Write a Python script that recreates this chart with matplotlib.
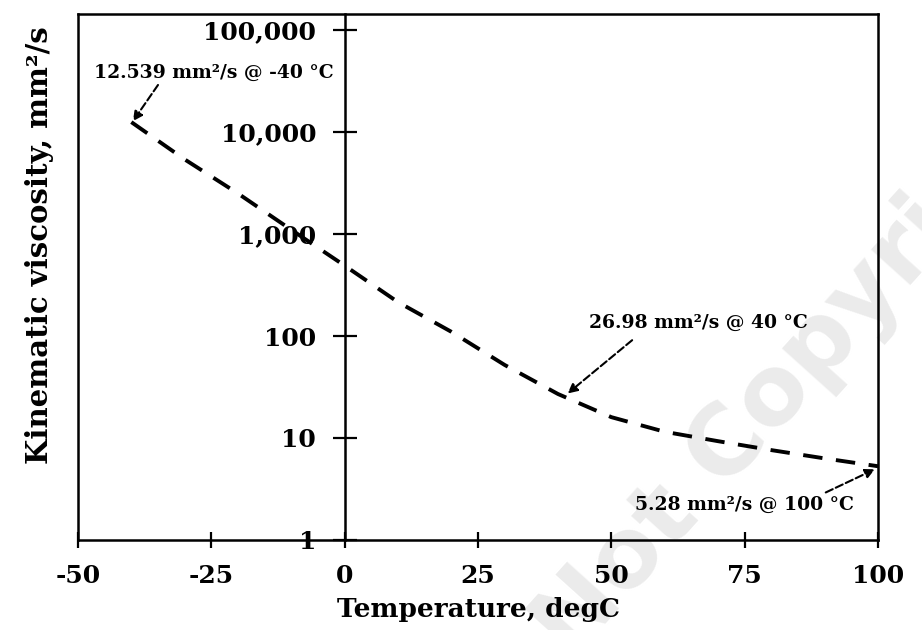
import matplotlib.pyplot as plt
from matplotlib.ticker import FixedLocator, FixedFormatter, NullLocator

plt.rcParams['font.family'] = ['DejaVu Serif']
plt.rcParams['font.weight'] = 'bold'

# viscosity curve
temps = [-40, -30, -20, -10, 0, 10, 20, 30, 40, 50, 60, 70, 80, 90, 100]
visc = [12539, 5400, 2500, 1100, 490, 215, 110, 52, 26.98, 16, 11.5, 9.3, 7.6, 6.3, 5.28]

yticks = [1, 10, 100, 1000, 10000, 100000]
ytick_labels = ['1', '10', '100', '1,000', '10,000', '100,000']
xticks = [-50, -25, 0, 25, 50, 75, 100]

notes = ['12.539 mm²/s @ -40 °C', '26.98 mm²/s @ 40 °C', '5.28 mm²/s @ 100 °C']
note_pos = [(-24.5, 38000), (66.4, 134), (75.0, 2.22)]
arrow_tail = [(-35, 29000), (53.9, 91), (90.2, 2.92)]
arrow_head = [(-39.7, 12800), (41.8, 27.3), (99.4, 4.93)]

fig = plt.figure(figsize=(9.22, 6.30), dpi=100)
ax = fig.add_axes([0.0846, 0.143, 0.8677, 0.835])

ax.plot(temps, visc, color='black', lw=2.8, linestyle=(0, (5, 3.5)), zorder=3)
ax.set_yscale('log')
ax.set_xlim(-50, 100)
ax.set_ylim(1, 10 ** 5.16)

ax.yaxis.set_major_locator(FixedLocator(yticks))
ax.yaxis.set_major_formatter(FixedFormatter(ytick_labels))
ax.yaxis.set_minor_locator(NullLocator())
ax.set_xticks(xticks)
ax.set_xticklabels([str(t) for t in xticks])

# y axis drawn through x = 0, frame kept round the plot
ax.spines['left'].set_position(('data', 0))
for s in ax.spines.values():
    s.set_linewidth(1.8)
ax.plot([0, 0], [0, 1], transform=ax.transAxes, color='black', lw=1.8, clip_on=False)

ax.tick_params(axis='y', direction='inout', length=17, width=1.6, labelsize=18, pad=12)
ax.tick_params(axis='x', direction='inout', length=12, width=1.6, labelsize=18, pad=11)

ax.set_xlabel('Temperature, degC', fontsize=19, fontweight='bold', labelpad=7)
ax.set_ylabel('Kinematic viscosity, mm²/s', fontsize=21, fontweight='bold')
ax.yaxis.set_label_coords(-0.03, 0.56, transform=ax.transAxes)

for txt, pos, tail, head in zip(notes, note_pos, arrow_tail, arrow_head):
    ax.text(pos[0], pos[1], txt, fontsize=13.5, fontweight='bold', ha='center', va='center')
    ax.annotate('', xy=head, xytext=tail,
                arrowprops=dict(arrowstyle='-|>', color='black', lw=1.5,
                                linestyle='--', mutation_scale=14,
                                shrinkA=0, shrinkB=0))

# faint watermark
ax.text(0.62, -0.05, 'Not Copyrighted', transform=fig.transFigure, rotation=48,
        rotation_mode='anchor', fontsize=70, fontweight='bold', family='DejaVu Sans',
        color='#ebebeb', ha='left', va='baseline', zorder=0.5, clip_on=False)

fig.savefig('out.png', dpi=100)
